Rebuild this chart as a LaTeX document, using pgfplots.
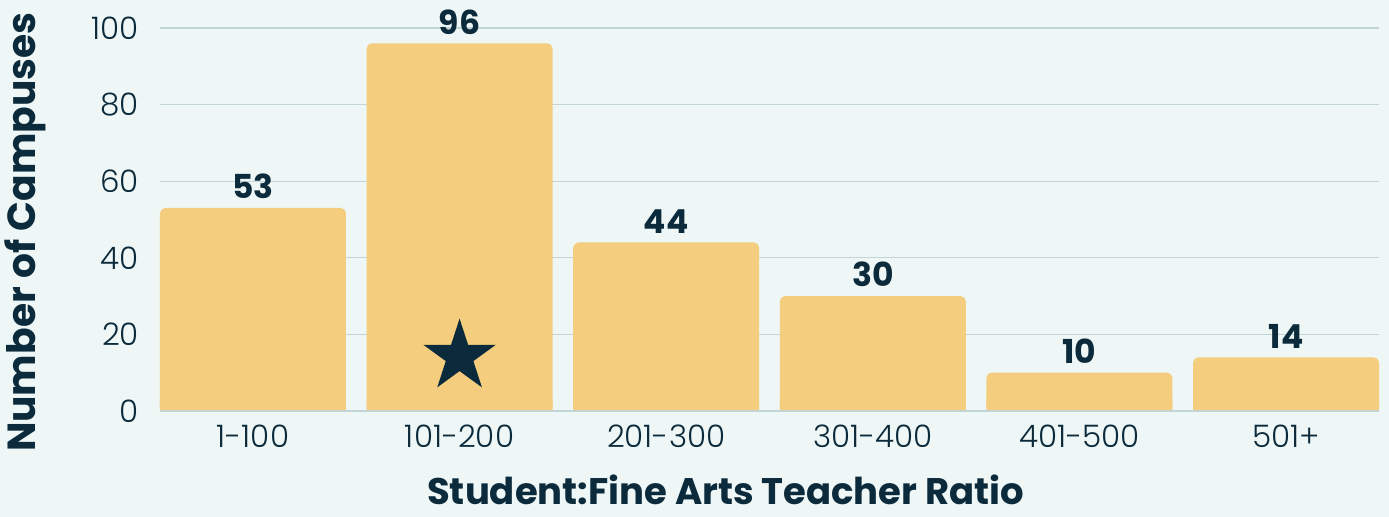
\documentclass[border=0pt]{standalone}
\usepackage{fontspec}
\setmainfont{Poppins}[BoldFont={Poppins Bold}]
\newfontfamily\lightfont{Poppins Light}
\usepackage{pgfplots}
\pgfplotsset{compat=1.18}
\usetikzlibrary{shapes.geometric}
\definecolor{bgc}{HTML}{EEF7F6}
\definecolor{barc}{HTML}{F4CD7E}
\definecolor{navy}{HTML}{0B2A3B}
\definecolor{gridc}{HTML}{C3D4D7}
\pgfdeclareplotmark{fstar}{\node[star,star points=5,star point ratio=2.618,fill=navy,draw=none,inner sep=0pt,minimum size=38pt]{};}
\begin{document}
\begin{tikzpicture}
\fill[bgc] (-80pt,-53pt) rectangle (614.5pt,205.5pt);
\begin{axis}[
  at={(0,0)}, anchor=south west,
  scale only axis, width=609.5pt, height=191.5pt,
  xmin=-0.45, xmax=5.45, ymin=0, ymax=100,
  clip=false,
  axis x line*=bottom,
  axis y line*=left,
  x axis line style={draw=none},
  y axis line style={draw=none},
  ymajorgrids, grid style={gridc, line width=0.6pt},
  ytick={0,20,40,60,80,100},
  xtick={0,1,2,3,4,5},
  xticklabels={1-100,101-200,201-300,301-400,401-500,501+},
  major tick length=0pt,
  tick style={draw=none},
  tick label style={font=\lightfont\fontsize{15.5}{18}\selectfont, text=navy},
  /pgf/number format/assume math mode=true,
  yticklabel style={xshift=-7pt},
  xticklabel style={yshift=-3.5pt},
  ylabel={Number of Campuses},
  xlabel={Student:Fine Arts Teacher Ratio},
  xlabel style={font=\bfseries\fontsize{18.5}{21}\selectfont, text=navy, at={(axis description cs:0.464,-0.205)}, anchor=center},
  ylabel style={font=\bfseries\fontsize{19.6}{22}\selectfont, text=navy, at={(axis description cs:-0.1107,0.467)}, anchor=center, rotate=0},
]
\addplot[ybar, bar width=0.9, bar shift=0pt, fill=barc, draw=none, rounded corners=2.6pt,
  nodes near coords, nodes near coords style={font=\bfseries\fontsize{16.5}{19}\selectfont, text=navy, yshift=1pt}]
  coordinates {(0,53) (1,96) (2,44) (3,30) (4,10) (5,14)};
\addplot[ybar, bar width=0.9, bar shift=0pt, fill=barc, draw=none, forget plot]
  coordinates {(0,3) (1,3) (2,3) (3,3) (4,3) (5,3)};
\draw[gridc, line width=1pt] (axis cs:-0.45,0) -- (axis cs:5.45,0);
\addplot[only marks, mark=fstar] coordinates {(1,14.2)};
\end{axis}
\pgfresetboundingbox
\path (-80pt,-53pt) rectangle (614.5pt,205.5pt);
\end{tikzpicture}
\end{document}
